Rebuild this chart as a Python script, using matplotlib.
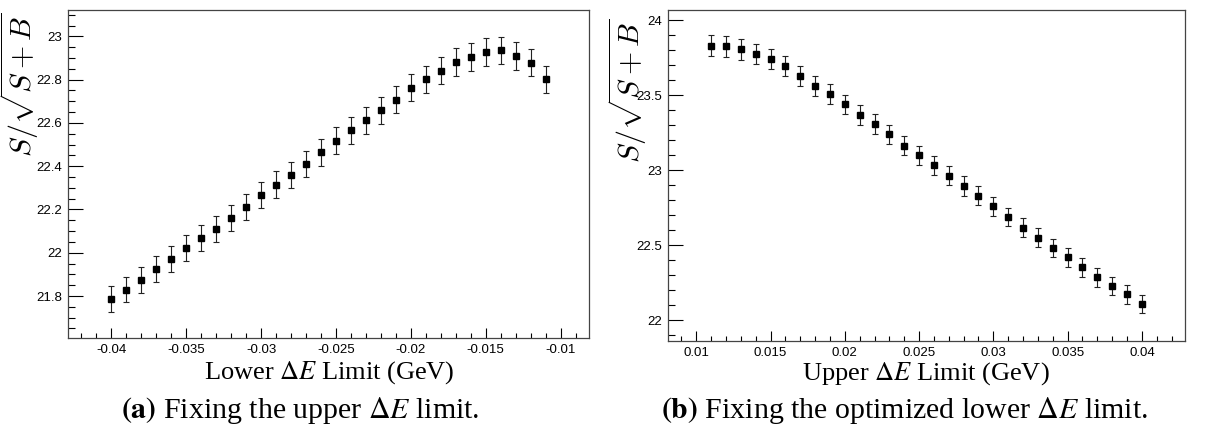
import numpy as np
import matplotlib
matplotlib.use("Agg")
import matplotlib.pyplot as plt
from matplotlib.ticker import MultipleLocator, FuncFormatter

plt.rcParams['mathtext.fontset'] = 'stix'
plt.rcParams['axes.unicode_minus'] = False

# scan of the lower Delta E cut (upper cut fixed)
lower_cut = [-0.040, -0.039, -0.038, -0.037, -0.036, -0.035, -0.034, -0.033,
             -0.032, -0.031, -0.030, -0.029, -0.028, -0.027, -0.026, -0.025,
             -0.024, -0.023, -0.022, -0.021, -0.020, -0.019, -0.018, -0.017,
             -0.016, -0.015, -0.014, -0.013, -0.012, -0.011]
lower_signif = [21.787, 21.830, 21.873, 21.924, 21.973, 22.021, 22.067, 22.110,
                22.161, 22.213, 22.268, 22.315, 22.360, 22.410, 22.464, 22.517,
                22.566, 22.612, 22.658, 22.708, 22.762, 22.801, 22.842, 22.882,
                22.905, 22.928, 22.935, 22.908, 22.879, 22.801]
lower_err = [0.059, 0.059, 0.060, 0.060, 0.060, 0.060, 0.060, 0.060,
             0.060, 0.060, 0.061, 0.061, 0.061, 0.061, 0.061, 0.062,
             0.062, 0.062, 0.062, 0.062, 0.062, 0.063, 0.063, 0.063,
             0.063, 0.063, 0.063, 0.064, 0.064, 0.064]

# scan of the upper Delta E cut (optimized lower cut fixed)
upper_cut = [0.011, 0.012, 0.013, 0.014, 0.015, 0.016, 0.017, 0.018,
             0.019, 0.020, 0.021, 0.022, 0.023, 0.024, 0.025, 0.026,
             0.027, 0.028, 0.029, 0.030, 0.031, 0.032, 0.033, 0.034,
             0.035, 0.036, 0.037, 0.038, 0.039, 0.040]
upper_signif = [23.829, 23.824, 23.804, 23.775, 23.742, 23.693, 23.629, 23.562,
                23.509, 23.437, 23.368, 23.306, 23.237, 23.163, 23.097, 23.032,
                22.961, 22.894, 22.830, 22.758, 22.687, 22.614, 22.549, 22.480,
                22.418, 22.351, 22.284, 22.229, 22.171, 22.107]
upper_err = [0.068, 0.068, 0.068, 0.067, 0.067, 0.067, 0.067, 0.066,
             0.066, 0.066, 0.066, 0.065, 0.065, 0.065, 0.065, 0.064,
             0.064, 0.064, 0.064, 0.063, 0.063, 0.063, 0.063, 0.062,
             0.062, 0.062, 0.062, 0.061, 0.061, 0.061]

ylabel = r'$S/\sqrt{S+B}$'
tick_font = dict(family='Liberation Sans', size=9.5)
serif = 'Liberation Serif'


def fmt(v, pos):
    return '%g' % round(v, 6)


def draw_scan(ax, x, y, err, xlim, ylim, ymaj, ymin):
    ax.errorbar(x, y, yerr=err, fmt='s', color='black', ms=4.6,
                ecolor='#222222', elinewidth=0.8, capsize=2.2, capthick=0.8)
    ax.set_xlim(*xlim)
    ax.set_ylim(*ylim)
    ax.xaxis.set_major_locator(MultipleLocator(0.005))
    ax.xaxis.set_minor_locator(MultipleLocator(0.001))
    ax.yaxis.set_major_locator(MultipleLocator(ymaj))
    ax.yaxis.set_minor_locator(MultipleLocator(ymin))
    ax.xaxis.set_major_formatter(FuncFormatter(fmt))
    ax.yaxis.set_major_formatter(FuncFormatter(fmt))
    ax.tick_params(axis='x', which='major', direction='in', length=7.2, width=0.8, pad=4)
    ax.tick_params(axis='x', which='minor', direction='in', length=3.6, width=0.8)
    ax.tick_params(axis='y', which='major', direction='in', length=10.5, width=0.8, pad=4)
    ax.tick_params(axis='y', which='minor', direction='in', length=5.2, width=0.8)
    for lab in ax.get_xticklabels() + ax.get_yticklabels():
        lab.set_fontfamily(tick_font['family'])
        lab.set_fontsize(tick_font['size'])
    for sp in ax.spines.values():
        sp.set_color('#444444')
        sp.set_linewidth(0.9)


fig = plt.figure(figsize=(12.11, 4.28), dpi=100)
W, H = 1211.0, 428.0

ax1 = fig.add_axes([68 / W, 1 - 338 / H, (589 - 68) / W, (338 - 10) / H])
draw_scan(ax1, lower_cut, lower_signif, lower_err,
          (-0.0429, -0.0081), (21.606, 23.122), 0.2, 0.05)

ax2 = fig.add_axes([668 / W, 1 - 341 / H, (1185 - 668) / W, (341 - 10) / H])
draw_scan(ax2, upper_cut, upper_signif, upper_err,
          (0.0081, 0.0429), (21.86, 24.067), 0.5, 0.1)

# y titles, top aligned as ROOT does
fig.text(20 / W, 1 - 12 / H, ylabel, rotation=90, va='top', ha='center',
         fontsize=21.5, math_fontfamily='cm')
fig.text(628 / W, 1 - 18 / H, ylabel, rotation=90, va='top', ha='center',
         fontsize=21.5, math_fontfamily='cm')

fig.text(329 / W, 1 - 373 / H, r'Lower $\Delta E$ Limit (GeV)', ha='center',
         va='center', family=serif, fontsize=19)
fig.text(926 / W, 1 - 374 / H, r'Upper $\Delta E$ Limit (GeV)', ha='center',
         va='center', family=serif, fontsize=19)

fig.text(300 / W, 1 - 411 / H, r'$\mathbf{(a)}$ Fixing the upper $\Delta E$ limit.',
         ha='center', va='center', family=serif, fontsize=21.5)
fig.text(905 / W, 1 - 411 / H, r'$\mathbf{(b)}$ Fixing the optimized lower $\Delta E$ limit.',
         ha='center', va='center', family=serif, fontsize=21.5)

fig.savefig('out.png', dpi=100)
